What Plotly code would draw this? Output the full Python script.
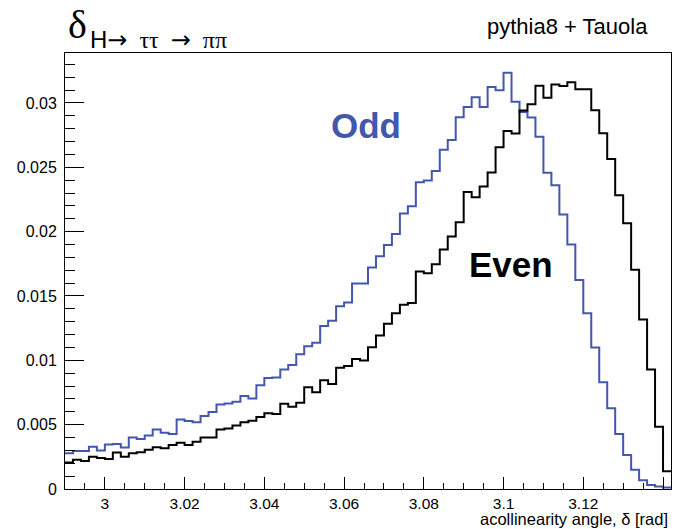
import numpy as np
import plotly.graph_objects as go

# ---- data ----
x_min = 2.99
bin_width = 0.002
odd_values = [
    0.00277, 0.00295, 0.00295, 0.00329, 0.00300, 0.00345, 0.00350, 0.00323, 0.00401, 0.00388,
    0.00415, 0.00463, 0.00437, 0.00427, 0.00540, 0.00528, 0.00518, 0.00567, 0.00598, 0.00656,
    0.00665, 0.00678, 0.00722, 0.00704, 0.00807, 0.00862, 0.00867, 0.00929, 0.00963, 0.01048,
    0.01110, 0.01136, 0.01266, 0.01307, 0.01421, 0.01450, 0.01597, 0.01597, 0.01722, 0.01808,
    0.01897, 0.01981, 0.02140, 0.02198, 0.02384, 0.02397, 0.02471, 0.02637, 0.02712, 0.02888,
    0.02968, 0.03044, 0.02968, 0.03124, 0.03098, 0.03235, 0.03010, 0.02929, 0.02886, 0.02738,
    0.02458, 0.02360, 0.02134, 0.01900, 0.01625, 0.01366, 0.01100, 0.00830, 0.00628, 0.00427,
    0.00264, 0.00150, 0.00068, 0.00031, 0.00019, 0.00012,
]
even_values = [
    0.00205, 0.00227, 0.00218, 0.00251, 0.00240, 0.00234, 0.00284, 0.00251, 0.00277, 0.00285,
    0.00305, 0.00324, 0.00316, 0.00342, 0.00360, 0.00342, 0.00367, 0.00400, 0.00400, 0.00463,
    0.00471, 0.00494, 0.00518, 0.00530, 0.00560, 0.00588, 0.00582, 0.00663, 0.00640, 0.00670,
    0.00790, 0.00752, 0.00846, 0.00815, 0.00942, 0.00955, 0.01010, 0.00998, 0.01102, 0.01192,
    0.01284, 0.01366, 0.01432, 0.01445, 0.01690, 0.01677, 0.01747, 0.01861, 0.01963, 0.02073,
    0.02308, 0.02267, 0.02350, 0.02460, 0.02655, 0.02781, 0.02763, 0.02942, 0.02989, 0.03134,
    0.03041, 0.03143, 0.03131, 0.03160, 0.03106, 0.03106, 0.02943, 0.02764, 0.02564, 0.02283,
    0.02066, 0.01703, 0.01317, 0.00929, 0.00484, 0.00137,
]
x_tick_vals = [3.0, 3.02, 3.04, 3.06, 3.08, 3.10, 3.12, 3.14]
x_tick_text = ["3", "3.02", "3.04", "3.06", "3.08", "3.1", "3.12", "3.14"]
y_tick_vals = [0, 0.005, 0.01, 0.015, 0.02, 0.025, 0.03]
y_tick_text = ["0", "0.005", "0.01", "0.015", "0.02", "0.025", "0.03"]

n_bins = len(even_values)
edges = [round(x_min + bin_width * i, 6) for i in range(n_bins + 1)]

BLUE = "#4357ad"
SANS = "Liberation Sans"
SERIF = "Liberation Serif"


def step_trace(vals, color):
    return go.Scatter(
        x=edges,
        y=list(vals) + [vals[-1]],
        mode="lines",
        line=dict(color=color, width=2, shape="hv"),
        hoverinfo="skip",
        showlegend=False,
    )


fig = go.Figure()
fig.add_trace(step_trace(odd_values, BLUE))
fig.add_trace(step_trace(even_values, "black"))

W, H = 676, 529
L, R, T, B = 65, 5, 53, 40
pw, ph = W - L - R, H - T - B


def px(xp):
    return (xp - L) / pw


def py(yp):
    return (H - B - yp) / ph


fig.update_layout(
    width=W, height=H,
    margin=dict(l=L, r=R, t=T, b=B),
    paper_bgcolor="white", plot_bgcolor="white",
    font=dict(family=SANS, size=16, color="black"),
    xaxis=dict(
        range=[x_min, edges[-1]],
        tickmode="array", tickvals=x_tick_vals, ticktext=x_tick_text,
        ticks="inside", ticklen=12, tickwidth=1, tickcolor="black",
        minor=dict(ticks="inside", ticklen=6, tickwidth=1, tickcolor="black",
                   tickmode="array", tickvals=list(np.round(np.arange(2.995, 3.142, 0.005), 4))),
        showline=True, linecolor="black", linewidth=1, mirror=True,
        showgrid=False, zeroline=False,
        tickfont=dict(family=SANS, size=15.5),
        ticklabelstandoff=0,
    ),
    yaxis=dict(
        range=[0, 0.03388],
        tickmode="array", tickvals=y_tick_vals, ticktext=y_tick_text,
        ticks="inside", ticklen=19, tickwidth=1, tickcolor="black",
        minor=dict(ticks="inside", ticklen=10, tickwidth=1, tickcolor="black",
                   tickmode="array", tickvals=list(np.round(np.arange(0.001, 0.0339, 0.001), 4))),
        showline=True, linecolor="black", linewidth=1, mirror=True,
        showgrid=False, zeroline=False,
        tickfont=dict(family=SANS, size=16),
        ticklabelstandoff=4,
    ),
)

ARROW = "<span style=\"font-family:'DejaVu Sans'\">→</span>"
annos = [
    dict(text="δ", x=px(66), y=py(49), xanchor="left", yanchor="bottom",
         font=dict(family=SERIF, size=40, color="black")),
    dict(text="H" + ARROW + "<span style=\"font-family:'Liberation Serif'\">  ττ  </span>" + ARROW
              + "<span style=\"font-family:'Liberation Serif'\">  ππ</span>",
         x=px(88), y=py(56), xanchor="left", yanchor="bottom",
         font=dict(family=SANS, size=24, color="black")),
    dict(text="pythia8 + Tauola", x=px(650), y=py(41), xanchor="right", yanchor="bottom",
         font=dict(family=SANS, size=22, color="black")),
    dict(text="<b>Odd</b>", x=px(366), y=py(147), xanchor="center", yanchor="bottom",
         font=dict(family=SANS, size=35, color=BLUE)),
    dict(text="<b>Even</b>", x=px(511.5), y=py(285.6), xanchor="center", yanchor="bottom",
         font=dict(family=SANS, size=35, color="black")),
    dict(text="acollinearity angle, δ [rad]", x=px(669), y=py(519), xanchor="right", yanchor="middle",
         font=dict(family=SANS, size=16.5, color="black"), borderpad=0),
]
for a in annos:
    a.update(xref="paper", yref="paper", showarrow=False)
    fig.add_annotation(**a)

fig.write_html("out.html")
